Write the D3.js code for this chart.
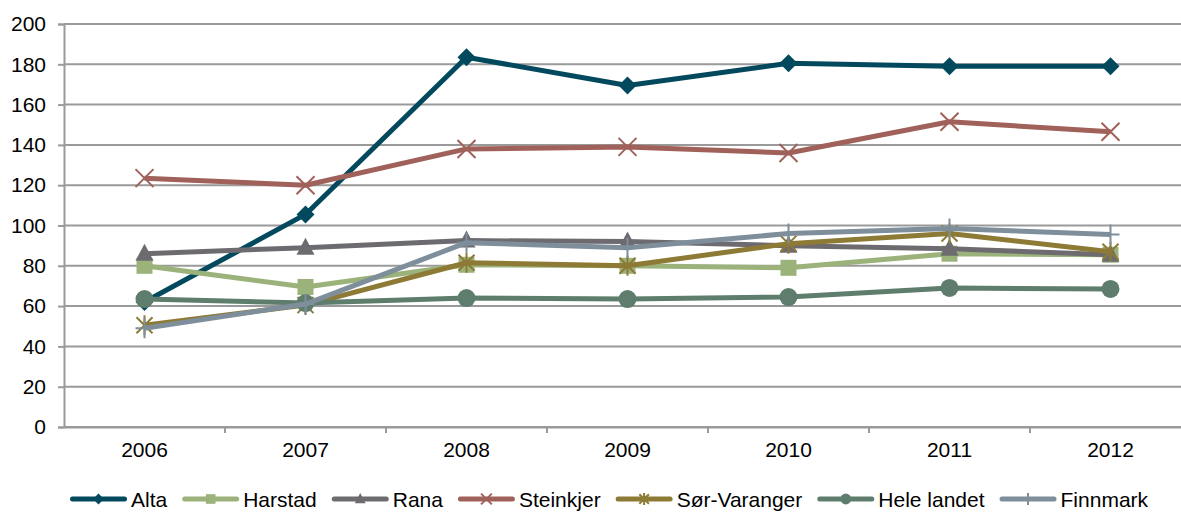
<!DOCTYPE html>
<html>
<head>
<meta charset="utf-8">
<script src="https://cdn.jsdelivr.net/npm/d3@7"></script>
<style>
  html, body { margin: 0; padding: 0; background: #fff; }
  svg { display: block; font-family: "Liberation Sans", Arial, sans-serif; }
</style>
</head>
<body>
<div id="chart"></div>
<script>
var years = ["2006", "2007", "2008", "2009", "2010", "2011", "2012"];
var yTicks = [0, 20, 40, 60, 80, 100, 120, 140, 160, 180, 200];

var alta = [62, 105.5, 183.5, 169.5, 180.5, 179, 179];
var harstad = [80, 69.5, 80.5, 80, 79, 86, 85.5];
var rana = [86, 89, 92.5, 92, 90, 88.5, 85.5];
var steinkjer = [123.5, 120, 138, 139, 136, 151.5, 146.5];
var sorVaranger = [50.5, 60.5, 81.5, 80, 91, 96, 87];
var heleLandet = [63.5, 61.5, 64, 63.5, 64.5, 69, 68.5];
var finnmark = [49, 61, 91.5, 89, 96, 98.5, 95.5];

var series = [
  {name: "Alta", values: alta, color: "#03495E", marker: "diamond"},
  {name: "Harstad", values: harstad, color: "#9BB27A", marker: "square"},
  {name: "Rana", values: rana, color: "#6D6B70", marker: "triangle"},
  {name: "Steinkjer", values: steinkjer, color: "#A0615A", marker: "cross"},
  {name: "Sør-Varanger", values: sorVaranger, color: "#8D7A35", marker: "star"},
  {name: "Hele landet", values: heleLandet, color: "#5F7D6D", marker: "circle"},
  {name: "Finnmark", values: finnmark, color: "#7E8E9B", marker: "plus"}
];

var W = 1181, H = 512;
var fontSize = "21px";
var margin = {top: 24, left: 64, bottom: 85},
    plotW = 7 * 161,
    plotH = H - margin.top - margin.bottom;

var svg = d3.select("#chart").append("svg")
  .attr("width", W)
  .attr("height", H);

var g = svg.append("g")
  .attr("transform", "translate(" + margin.left + "," + margin.top + ")");

var x = d3.scaleBand().domain(years).range([0, plotW]);
var y = d3.scaleLinear().domain([0, 200]).range([plotH, 0]);

// gridlines
g.selectAll("line.grid")
  .data(yTicks)
  .enter().append("line")
  .attr("class", "grid")
  .attr("x1", 0)
  .attr("x2", plotW)
  .attr("y1", function(d) { return y(d); })
  .attr("y2", function(d) { return y(d); })
  .attr("stroke", "#9A9A9A")
  .attr("stroke-width", 2);

// y axis
var yAxis = g.append("g")
  .call(d3.axisLeft(y).tickValues(yTicks).tickSize(6).tickPadding(12));
yAxis.select(".domain").attr("stroke", "#9A9A9A").attr("stroke-width", 2);
yAxis.selectAll(".tick line").attr("stroke", "#9A9A9A").attr("stroke-width", 2);
yAxis.selectAll("text").attr("font-size", fontSize).attr("fill", "#000")
  .style("font-family", "Liberation Sans, Arial, sans-serif");

// x axis
var xAxis = g.append("g")
  .attr("transform", "translate(0," + plotH + ")")
  .call(d3.axisBottom(x).tickSize(0).tickPadding(15));
xAxis.select(".domain").attr("stroke", "#9A9A9A").attr("stroke-width", 2);
xAxis.selectAll("text").attr("font-size", fontSize).attr("fill", "#000")
  .style("font-family", "Liberation Sans, Arial, sans-serif");
// tick marks between categories
xAxis.selectAll("line.sep")
  .data(years.slice(1))
  .enter().append("line")
  .attr("class", "sep")
  .attr("x1", function(d) { return x(d); })
  .attr("x2", function(d) { return x(d); })
  .attr("y1", 0)
  .attr("y2", 6)
  .attr("stroke", "#9A9A9A")
  .attr("stroke-width", 2);

function drawMarker(sel, type, color, s) {
  s = s || 1;
  if (type === "diamond") {
    sel.append("path").attr("d", "M0,-9L9,0L0,9L-9,0Z").attr("transform", "scale(" + s + ")").attr("fill", color);
  } else if (type === "square") {
    sel.append("rect").attr("x", -8 * s).attr("y", -8 * s).attr("width", 16 * s).attr("height", 16 * s).attr("fill", color);
  } else if (type === "triangle") {
    sel.append("path").attr("d", "M0,-10L9,7L-9,7Z").attr("transform", "scale(" + s + ")").attr("fill", color);
  } else if (type === "circle") {
    sel.append("circle").attr("r", 9 * s).attr("fill", color);
  } else if (type === "cross") {
    sel.append("path").attr("d", "M-9,-9L9,9M-9,9L9,-9").attr("transform", "scale(" + s + ")")
      .attr("stroke", color).attr("stroke-width", 2 / s).attr("fill", "none");
  } else if (type === "star") {
    sel.append("path").attr("d", "M-8,-8L8,8M-8,8L8,-8M0,-10L0,10").attr("transform", "scale(" + s + ")")
      .attr("stroke", color).attr("stroke-width", 2 / s).attr("fill", "none");
  } else if (type === "plus") {
    sel.append("path").attr("d", "M0,-10L0,10M-9,0L9,0").attr("transform", "scale(" + s + ")")
      .attr("stroke", color).attr("stroke-width", 2 / s).attr("fill", "none");
  }
}

var line = d3.line()
  .x(function(d, i) { return x(years[i]) + x.bandwidth() / 2; })
  .y(function(d) { return y(d); });

series.forEach(function(s) {
  var sg = g.append("g");
  sg.append("path")
    .datum(s.values)
    .attr("fill", "none")
    .attr("stroke", s.color)
    .attr("stroke-width", 5)
    .attr("stroke-linejoin", "round")
    .attr("d", line);
  s.values.forEach(function(v, i) {
    var m = sg.append("g")
      .attr("transform", "translate(" + (x(years[i]) + x.bandwidth() / 2) + "," + y(v) + ")");
    drawMarker(m, s.marker, s.color);
  });
});

// legend
var legend = svg.append("g").attr("transform", "translate(70,499)");
var lx = 0;
series.forEach(function(s) {
  var item = legend.append("g").attr("transform", "translate(" + lx + ",0)");
  item.append("line")
    .attr("x1", 2.5).attr("x2", 54.5)
    .attr("y1", 0).attr("y2", 0)
    .attr("stroke", s.color)
    .attr("stroke-width", 5)
    .attr("stroke-linecap", "round");
  var m = item.append("g").attr("transform", "translate(28.5,0)");
  drawMarker(m, s.marker, s.color, 0.6);
  var t = item.append("text")
    .attr("x", 61)
    .attr("y", 7.5)
    .attr("font-size", fontSize)
    .attr("fill", "#000")
    .text(s.name);
  lx += 61 + t.node().getComputedTextLength() + 15;
});
</script>
</body>
</html>
